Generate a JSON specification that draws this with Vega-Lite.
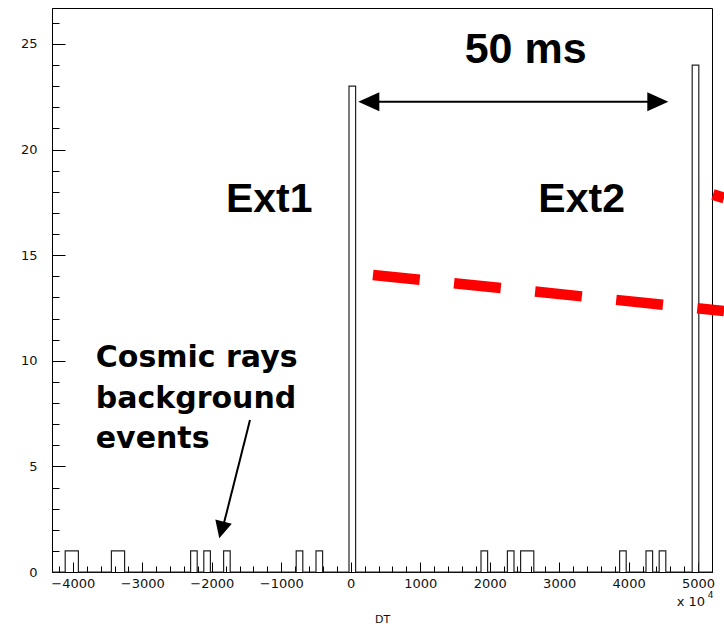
{
  "$schema": "https://vega.github.io/schema/vega-lite/v6.json",
  "width": 660,
  "height": 564,
  "autosize": {"type": "none"},
  "padding": {"left": 52, "top": 8, "right": 12, "bottom": 57},
  "background": "white",
  "config": {
    "view": {"stroke": "#000", "strokeWidth": 1},
    "axis": {
      "grid": false,
      "domainColor": "#000",
      "tickColor": "#000",
      "labelFont": "DejaVu Sans",
      "labelFontSize": 13,
      "labelColor": "#111",
      "titleFont": "DejaVu Sans",
      "titleFontWeight": "normal",
      "titleFontSize": 11,
      "titleColor": "#111"
    }
  },
  "resolve": {"axis": {"x": "independent", "y": "independent"}},
  "layer": [
    {
      "data": {"values": [
        {"dt": -4300, "n": 0}, {"dt": -4205, "n": 0}, {"dt": -4110, "n": 1}, {"dt": -4015, "n": 1}, {"dt": -3920, "n": 0},
        {"dt": -3825, "n": 0}, {"dt": -3730, "n": 0}, {"dt": -3635, "n": 0}, {"dt": -3540, "n": 0}, {"dt": -3445, "n": 1},
        {"dt": -3350, "n": 1}, {"dt": -3255, "n": 0}, {"dt": -3160, "n": 0}, {"dt": -3065, "n": 0}, {"dt": -2970, "n": 0},
        {"dt": -2875, "n": 0}, {"dt": -2780, "n": 0}, {"dt": -2685, "n": 0}, {"dt": -2590, "n": 0}, {"dt": -2495, "n": 0},
        {"dt": -2400, "n": 0}, {"dt": -2305, "n": 1}, {"dt": -2210, "n": 0}, {"dt": -2115, "n": 1}, {"dt": -2020, "n": 0},
        {"dt": -1925, "n": 0}, {"dt": -1830, "n": 1}, {"dt": -1735, "n": 0}, {"dt": -1640, "n": 0}, {"dt": -1545, "n": 0},
        {"dt": -1450, "n": 0}, {"dt": -1355, "n": 0}, {"dt": -1260, "n": 0}, {"dt": -1165, "n": 0}, {"dt": -1070, "n": 0},
        {"dt": -975, "n": 0}, {"dt": -880, "n": 0}, {"dt": -785, "n": 1}, {"dt": -690, "n": 0}, {"dt": -595, "n": 0},
        {"dt": -500, "n": 1}, {"dt": -405, "n": 0}, {"dt": -310, "n": 0}, {"dt": -215, "n": 0}, {"dt": -120, "n": 0},
        {"dt": -25, "n": 23}, {"dt": 70, "n": 0}, {"dt": 165, "n": 0}, {"dt": 260, "n": 0}, {"dt": 355, "n": 0},
        {"dt": 450, "n": 0}, {"dt": 545, "n": 0}, {"dt": 640, "n": 0}, {"dt": 735, "n": 0}, {"dt": 830, "n": 0},
        {"dt": 925, "n": 0}, {"dt": 1020, "n": 0}, {"dt": 1115, "n": 0}, {"dt": 1210, "n": 0}, {"dt": 1305, "n": 0},
        {"dt": 1400, "n": 0}, {"dt": 1495, "n": 0}, {"dt": 1590, "n": 0}, {"dt": 1685, "n": 0}, {"dt": 1780, "n": 0},
        {"dt": 1875, "n": 1}, {"dt": 1970, "n": 0}, {"dt": 2065, "n": 0}, {"dt": 2160, "n": 0}, {"dt": 2255, "n": 1},
        {"dt": 2350, "n": 0}, {"dt": 2445, "n": 1}, {"dt": 2540, "n": 1}, {"dt": 2635, "n": 0}, {"dt": 2730, "n": 0},
        {"dt": 2825, "n": 0}, {"dt": 2920, "n": 0}, {"dt": 3015, "n": 0}, {"dt": 3110, "n": 0}, {"dt": 3205, "n": 0},
        {"dt": 3300, "n": 0}, {"dt": 3395, "n": 0}, {"dt": 3490, "n": 0}, {"dt": 3585, "n": 0}, {"dt": 3680, "n": 0},
        {"dt": 3775, "n": 0}, {"dt": 3870, "n": 1}, {"dt": 3965, "n": 0}, {"dt": 4060, "n": 0}, {"dt": 4155, "n": 0},
        {"dt": 4250, "n": 1}, {"dt": 4345, "n": 0}, {"dt": 4440, "n": 1}, {"dt": 4535, "n": 0}, {"dt": 4630, "n": 0},
        {"dt": 4725, "n": 0}, {"dt": 4820, "n": 0}, {"dt": 4915, "n": 24}, {"dt": 5010, "n": 0}, {"dt": 5105, "n": 0},
        {"dt": 5200, "n": 0}
      ]},
      "mark": {"type": "line", "interpolate": "step-after", "color": "#222", "strokeWidth": 1.2},
      "encoding": {
        "x": {
          "field": "dt", "type": "quantitative",
          "scale": {"domain": [-4300, 5200], "nice": false, "zero": false},
          "axis": {
            "orient": "bottom",
            "title": "DT",
            "titleY": 50,
            "titleBaseline": "alphabetic",
            "values": [-4000, -3000, -2000, -1000, 0, 1000, 2000, 3000, 4000, 5000],
            "format": "d",
            "labelOverlap": false,
            "labelFlush": false,
            "ticks": false,
            "labelPadding": 5
          }
        },
        "y": {
          "field": "n", "type": "quantitative",
          "scale": {"domain": [0, 26.7], "nice": false},
          "axis": {
            "orient": "left",
            "title": null,
            "values": [0, 5, 10, 15, 20, 25],
            "labelOverlap": false,
            "labelFlush": false,
            "ticks": false,
            "labelPadding": 15
          }
        }
      }
    },
    {
      "data": {"values": [{"dt": 320, "n": 14.06}, {"dt": 5373, "n": 12.36}]},
      "mark": {"type": "line", "color": "#ff0000", "strokeWidth": 10.5, "strokeDash": [47, 34.5], "strokeCap": "butt"},
      "encoding": {
        "x": {"field": "dt", "type": "quantitative", "axis": {"orient": "top", "offset": -564, "values": [-4000, -3000, -2000, -1000, 0, 1000, 2000, 3000, 4000, 5000], "labels": false, "domain": false, "title": null, "tickSize": 10}},
        "y": {"field": "n", "type": "quantitative", "axis": {"orient": "right", "offset": -660, "values": [0, 5, 10, 15, 20, 25], "labels": false, "domain": false, "title": null, "tickSize": 13}}
      }
    },
    {
      "data": {"values": [{"dt": 5214, "n": 17.87}, {"dt": 5373, "n": 17.71}]},
      "mark": {"type": "line", "color": "#ff0000", "strokeWidth": 11, "strokeCap": "butt"},
      "encoding": {
        "x": {"field": "dt", "type": "quantitative", "axis": {"orient": "top", "offset": -564, "values": [-4200, -3800, -3600, -3400, -3200, -2800, -2600, -2400, -2200, -1800, -1600, -1400, -1200, -800, -600, -400, -200, 200, 400, 600, 800, 1200, 1400, 1600, 1800, 2200, 2400, 2600, 2800, 3200, 3400, 3600, 3800, 4200, 4400, 4600, 4800, 5200], "labels": false, "domain": false, "title": null, "tickSize": 6}},
        "y": {"field": "n", "type": "quantitative", "axis": {"orient": "right", "offset": -660, "values": [1, 2, 3, 4, 6, 7, 8, 9, 11, 12, 13, 14, 16, 17, 18, 19, 21, 22, 23, 24, 26], "labels": false, "domain": false, "title": null, "tickSize": 7}}
      }
    },
    {
      "data": {"values": [{"dt": 300, "n": 22.26}, {"dt": 4400, "n": 22.26}]},
      "mark": {"type": "line", "color": "#000", "strokeWidth": 2},
      "encoding": {"x": {"field": "dt", "type": "quantitative", "axis": null}, "y": {"field": "n", "type": "quantitative", "axis": null}}
    },
    {
      "data": {"values": [{"dt": 109, "n": 22.26}]},
      "mark": {"type": "point", "shape": "M0,0L1,-0.45L1,0.45Z", "size": 1764, "filled": true, "color": "#000", "opacity": 1, "strokeWidth": 0},
      "encoding": {"x": {"field": "dt", "type": "quantitative", "axis": null}, "y": {"field": "n", "type": "quantitative", "axis": null}}
    },
    {
      "data": {"values": [{"dt": 4571, "n": 22.26}]},
      "mark": {"type": "point", "shape": "M0,0L-1,-0.45L-1,0.45Z", "size": 1764, "filled": true, "color": "#000", "opacity": 1, "strokeWidth": 0},
      "encoding": {"x": {"field": "dt", "type": "quantitative", "axis": null}, "y": {"field": "n", "type": "quantitative", "axis": null}}
    },
    {
      "data": {"values": [{"dt": -1450, "n": 7.2}, {"dt": -1839, "n": 2.13}]},
      "mark": {"type": "line", "color": "#000", "strokeWidth": 2},
      "encoding": {"x": {"field": "dt", "type": "quantitative", "axis": null}, "y": {"field": "n", "type": "quantitative", "axis": null}}
    },
    {
      "data": {"values": [{"dt": -1892, "n": 1.6}]},
      "mark": {"type": "point", "shape": "M0,0L-0.5,-1L0.5,-1Z", "size": 1156, "angle": 14.5, "filled": true, "color": "#000", "opacity": 1, "strokeWidth": 0},
      "encoding": {"x": {"field": "dt", "type": "quantitative", "axis": null}, "y": {"field": "n", "type": "quantitative", "axis": null}}
    },
    {
      "data": {"values": [{"dt": 2518, "n": 24.08, "label": "50 ms"}]},
      "mark": {"type": "text", "font": "Liberation Sans", "fontWeight": "bold", "fontSize": 43, "align": "center", "baseline": "alphabetic", "color": "#000"},
      "encoding": {"x": {"field": "dt", "type": "quantitative", "axis": null}, "y": {"field": "n", "type": "quantitative", "axis": null}, "text": {"field": "label"}}
    },
    {
      "data": {"values": [{"dt": -1174, "n": 17.06, "label": "Ext1"}, {"dt": 3324, "n": 17.06, "label": "Ext2"}]},
      "mark": {"type": "text", "font": "Liberation Sans", "fontWeight": "bold", "fontSize": 41, "align": "center", "baseline": "alphabetic", "color": "#000"},
      "encoding": {"x": {"field": "dt", "type": "quantitative", "axis": null}, "y": {"field": "n", "type": "quantitative", "axis": null}, "text": {"field": "label"}}
    },
    {
      "data": {"values": [
        {"dt": -3670, "n": 9.69, "label": "Cosmic rays"},
        {"dt": -3670, "n": 7.75, "label": "background"},
        {"dt": -3670, "n": 5.87, "label": "events"}
      ]},
      "mark": {"type": "text", "font": "DejaVu Sans", "fontWeight": "bold", "fontSize": 30, "align": "left", "baseline": "alphabetic", "color": "#000"},
      "encoding": {"x": {"field": "dt", "type": "quantitative", "axis": null}, "y": {"field": "n", "type": "quantitative", "axis": null}, "text": {"field": "label"}}
    },
    {
      "data": {"values": [{"dt": 4692, "n": -1.63, "label": "x 10"}]},
      "mark": {"type": "text", "font": "DejaVu Sans", "fontSize": 13, "align": "left", "baseline": "alphabetic", "color": "#111"},
      "encoding": {"x": {"field": "dt", "type": "quantitative", "axis": null}, "y": {"field": "n", "type": "quantitative", "axis": null}, "text": {"field": "label"}}
    },
    {
      "data": {"values": [{"dt": 5140, "n": -1.25, "label": "4"}]},
      "mark": {"type": "text", "font": "DejaVu Sans", "fontSize": 9, "align": "left", "baseline": "alphabetic", "color": "#111"},
      "encoding": {"x": {"field": "dt", "type": "quantitative", "axis": null}, "y": {"field": "n", "type": "quantitative", "axis": null}, "text": {"field": "label"}}
    }
  ]
}
